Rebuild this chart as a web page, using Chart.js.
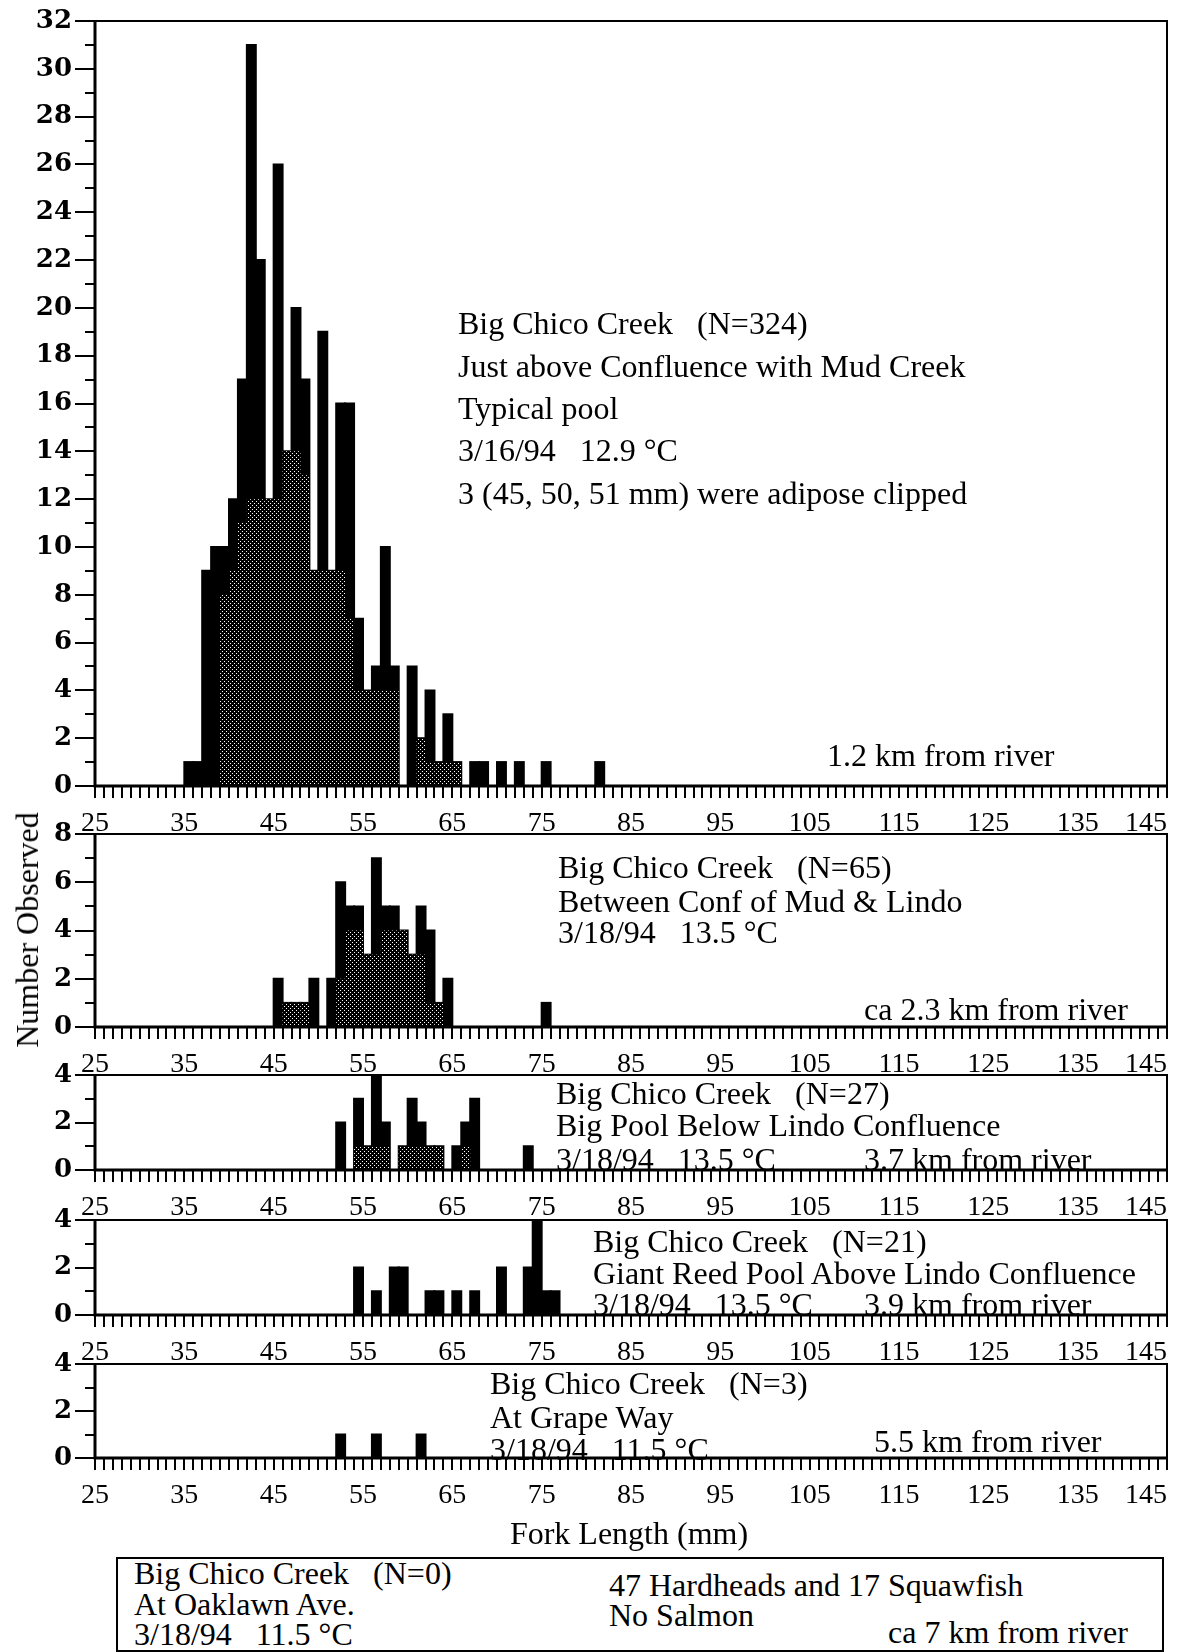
<!DOCTYPE html>
<html>
<head>
<meta charset="utf-8">
<script src="https://cdn.jsdelivr.net/npm/chart.js@4.4.1/dist/chart.umd.min.js"></script>
<style>
  html, body { margin: 0; padding: 0; background: #fff; }
  body { width: 1179px; height: 1652px; position: relative; overflow: hidden;
         font-family: "Liberation Serif", "Times New Roman", serif; color: #000; }
  canvas.panel { position: absolute; left: 0; }
  .note { position: absolute; font-size: 32px; line-height: 1; white-space: pre; }
  #ytitle { position: absolute; left: 27px; top: 930px; font-size: 32px; line-height: 1;
            white-space: nowrap; transform: translate(-50%, -50%) rotate(-90deg); }
  #xtitle { position: absolute; left: 629px; top: 1533px; font-size: 32px; line-height: 1;
            white-space: nowrap; transform: translate(-50%, -50%); }
  #oaklawn { position: absolute; left: 116px; top: 1557px; width: 1044px; height: 91px;
             border: 2px solid #000; }
</style>
</head>
<body>
<canvas id="p1" class="panel"></canvas>
<canvas id="p2" class="panel"></canvas>
<canvas id="p3" class="panel"></canvas>
<canvas id="p4" class="panel"></canvas>
<canvas id="p5" class="panel"></canvas>

<div class="note" style="left:458px; top:307px">Big Chico Creek   (N=324)</div>
<div class="note" style="left:458px; top:350px">Just above Confluence with Mud Creek</div>
<div class="note" style="left:458px; top:392px">Typical pool</div>
<div class="note" style="left:458px; top:434px">3/16/94   12.9 °C</div>
<div class="note" style="left:458px; top:477px">3 (45, 50, 51 mm) were adipose clipped</div>
<div class="note" style="left:827px; top:739px">1.2 km from river</div>

<div class="note" style="left:558px; top:851px">Big Chico Creek   (N=65)</div>
<div class="note" style="left:558px; top:885px">Between Conf of Mud &amp; Lindo</div>
<div class="note" style="left:558px; top:916px">3/18/94   13.5 °C</div>
<div class="note" style="left:864px; top:993px">ca 2.3 km from river</div>

<div class="note" style="left:556px; top:1077px">Big Chico Creek   (N=27)</div>
<div class="note" style="left:556px; top:1109px">Big Pool Below Lindo Confluence</div>
<div class="note" style="left:556px; top:1143px">3/18/94   13.5 °C</div>
<div class="note" style="left:864px; top:1143px">3.7 km from river</div>

<div class="note" style="left:593px; top:1225px">Big Chico Creek   (N=21)</div>
<div class="note" style="left:593px; top:1257px">Giant Reed Pool Above Lindo Confluence</div>
<div class="note" style="left:593px; top:1288px">3/18/94   13.5 °C</div>
<div class="note" style="left:864px; top:1288px">3.9 km from river</div>

<div class="note" style="left:490px; top:1367px">Big Chico Creek   (N=3)</div>
<div class="note" style="left:490px; top:1401px">At Grape Way</div>
<div class="note" style="left:490px; top:1433px">3/18/94   11.5 °C</div>
<div class="note" style="left:874px; top:1425px">5.5 km from river</div>

<div id="ytitle">Number Observed</div>
<div id="xtitle">Fork Length (mm)</div>

<div id="oaklawn"></div>
<div class="note" style="left:134px; top:1557px">Big Chico Creek   (N=0)</div>
<div class="note" style="left:134px; top:1588px">At Oaklawn Ave.</div>
<div class="note" style="left:134px; top:1618px">3/18/94   11.5 °C</div>
<div class="note" style="left:609px; top:1569px">47 Hardheads and 17 Squawfish</div>
<div class="note" style="left:609px; top:1599px">No Salmon</div>
<div class="note" style="left:888px; top:1616px">ca 7 km from river</div>

<script>
// fork length classes (mm, lower edge of each 1 mm class) and counts per site

// 1.2 km: just above confluence with Mud Creek
const mudLengths = [35, 36, 37, 38, 39, 40, 41, 42, 43, 44, 45, 46, 47, 48, 49, 50, 51, 52,
  53, 54, 55, 56, 57, 58, 60, 61, 62, 63, 64, 65, 67, 68, 70, 72, 75, 81];
const mudCounts = [1, 1, 9, 10, 10, 12, 17, 31, 22, 12, 26, 14, 20, 17, 9, 19, 9, 16,
  16, 7, 4, 5, 10, 5, 5, 2, 4, 1, 3, 1, 1, 1, 1, 1, 1, 1];
const mudStippleLengths = [39, 40, 41, 42, 43, 44, 45, 46, 47, 48, 49, 50, 51, 52, 53, 54,
  55, 56, 57, 58, 61, 62, 63, 64, 65];
const mudStippleCounts = [8, 9, 11, 12, 12, 12, 12, 14, 14, 13, 9, 9, 9, 9, 7, 4,
  4, 4, 4, 4, 2, 1, 1, 1, 1];

// 2.3 km: between Mud and Lindo confluences
const lindoLengths = [45, 46, 47, 48, 49, 51, 52, 53, 54, 55, 56, 57, 58, 59, 60, 61, 62, 63, 64, 75];
const lindoCounts = [2, 1, 1, 1, 2, 2, 6, 5, 5, 3, 7, 5, 5, 4, 3, 5, 4, 1, 2, 1];
const lindoStippleLengths = [46, 47, 48, 52, 53, 54, 55, 56, 57, 58, 59, 60, 61, 62, 63];
const lindoStippleCounts = [1, 1, 1, 2, 4, 4, 3, 3, 4, 4, 4, 3, 3, 1, 1];

// 3.7 km: big pool below Lindo confluence
const bigPoolLengths = [52, 54, 55, 56, 57, 59, 60, 61, 62, 63, 65, 66, 67, 73];
const bigPoolCounts = [2, 3, 1, 4, 2, 1, 3, 2, 1, 1, 1, 2, 3, 1];
const bigPoolStippleLengths = [54, 55, 56, 57, 59, 60, 61, 62, 63, 66];
const bigPoolStippleCounts = [1, 1, 1, 1, 1, 1, 1, 1, 1, 1];

// 3.9 km: giant reed pool above Lindo confluence
const reedLengths = [54, 56, 58, 59, 62, 63, 65, 67, 70, 73, 74, 75, 76];
const reedCounts = [2, 1, 2, 2, 1, 1, 1, 1, 2, 2, 4, 1, 1];

// 5.5 km: at Grape Way
const grapeLengths = [52, 56, 61];
const grapeCounts = [1, 1, 1];

const xTicks = [25, 35, 45, 55, 65, 75, 85, 95, 105, 115, 125, 135, 145];

// one bar per 1 mm class across the whole axis, empty classes at zero
function classes(lengths, counts) {
  const out = [];
  for (let mm = xTicks[0]; mm < xTicks[xTicks.length - 1]; mm++) {
    const i = lengths.indexOf(mm);
    out.push({ x: mm + 0.5, y: i < 0 ? 0 : counts[i] });
  }
  return out;
}

function stipplePattern() {
  const c = document.createElement('canvas');
  c.width = 4; c.height = 4;
  const g = c.getContext('2d');
  g.fillStyle = '#000';
  g.fillRect(0, 0, 4, 4);
  g.fillStyle = '#fff';
  g.fillRect(0, 0, 1, 1);
  g.fillRect(2, 2, 1, 1);
  return g.createPattern(c, 'repeat');
}
const stipple = stipplePattern();

// box round the plot, heavier axes, and the small tick marks
const frame = {
  id: 'frame',
  afterDraw(chart) {
    const { ctx, chartArea: a, scales: { x, y } } = chart;
    ctx.save();
    ctx.strokeStyle = '#000';
    ctx.lineWidth = 2;
    ctx.strokeRect(a.left, a.top, a.right - a.left, a.bottom - a.top);
    ctx.lineWidth = 3;
    ctx.beginPath();
    ctx.moveTo(a.left, a.top);
    ctx.lineTo(a.left, a.bottom);
    ctx.lineTo(a.right, a.bottom);
    ctx.stroke();
    ctx.lineWidth = 2;
    ctx.beginPath();
    for (let v = x.min; v <= x.max; v++) {
      const px = Math.round(x.getPixelForValue(v));
      ctx.moveTo(px, a.bottom);
      ctx.lineTo(px, a.bottom + 12);
    }
    for (let v = y.min; v <= y.max; v++) {
      const py = Math.round(y.getPixelForValue(v));
      const len = v % 2 === 0 ? 20 : 10;
      ctx.moveTo(a.left - len, py);
      ctx.lineTo(a.left, py);
    }
    ctx.stroke();
    ctx.restore();
  }
};

function panel(id, plotTop, plotBottom, yMax, datasets) {
  const el = document.getElementById(id);
  el.width = 1179;
  el.height = plotBottom - plotTop + 20 + 60;
  el.style.top = (plotTop - 20) + 'px';
  return new Chart(el, {
    type: 'bar',
    data: { datasets },
    options: {
      responsive: false,
      animation: false,
      events: [],
      layout: { padding: { top: 20, left: 0, right: 12, bottom: 0 } },
      datasets: { bar: { grouped: false, barPercentage: 1, categoryPercentage: 1, borderWidth: 0 } },
      plugins: { legend: { display: false }, tooltip: { enabled: false } },
      scales: {
        x: {
          type: 'linear',
          offset: false,
          min: xTicks[0],
          max: xTicks[xTicks.length - 1],
          grid: { display: false, drawTicks: false },
          border: { display: false },
          afterBuildTicks: s => { s.ticks = xTicks.map(v => ({ value: v })); },
          afterFit: s => { s.height = 60; s.paddingLeft = 0; s.paddingRight = 0; },
          ticks: {
            padding: 21,
            maxRotation: 0,
            autoSkip: false,
            color: '#000',
            font: { family: 'Liberation Serif', size: 28 },
            // last label kept inside the frame
            callback: v => v === 145 ? '145\u2003\u2002' : String(v)
          }
        },
        y: {
          min: 0,
          max: yMax,
          grid: { display: false, drawTicks: false },
          border: { display: false },
          afterFit: s => { s.width = 95; s.paddingTop = 0; s.paddingBottom = 0; },
          ticks: {
            stepSize: 2,
            padding: 23,
            color: '#000',
            font: { family: 'DejaVu Serif', size: 26, weight: 'bold' }
          }
        }
      }
    },
    plugins: [frame]
  });
}

// stippled part drawn over the full black count; black bars slightly spread like ink
const stippled = (lengths, counts) =>
  ({ data: classes(lengths, counts), backgroundColor: stipple, inflateAmount: 0, order: 0 });
const solid = (lengths, counts) =>
  ({ data: classes(lengths, counts), backgroundColor: '#000', inflateAmount: 1, order: 1 });

panel('p1', 21, 786, 32, [
  stippled(mudStippleLengths, mudStippleCounts),
  solid(mudLengths, mudCounts)
]);
panel('p2', 834, 1027, 8, [
  stippled(lindoStippleLengths, lindoStippleCounts),
  solid(lindoLengths, lindoCounts)
]);
panel('p3', 1075, 1170, 4, [
  stippled(bigPoolStippleLengths, bigPoolStippleCounts),
  solid(bigPoolLengths, bigPoolCounts)
]);
panel('p4', 1220, 1315, 4, [solid(reedLengths, reedCounts)]);
panel('p5', 1364, 1458, 4, [solid(grapeLengths, grapeCounts)]);
</script>
</body>
</html>
